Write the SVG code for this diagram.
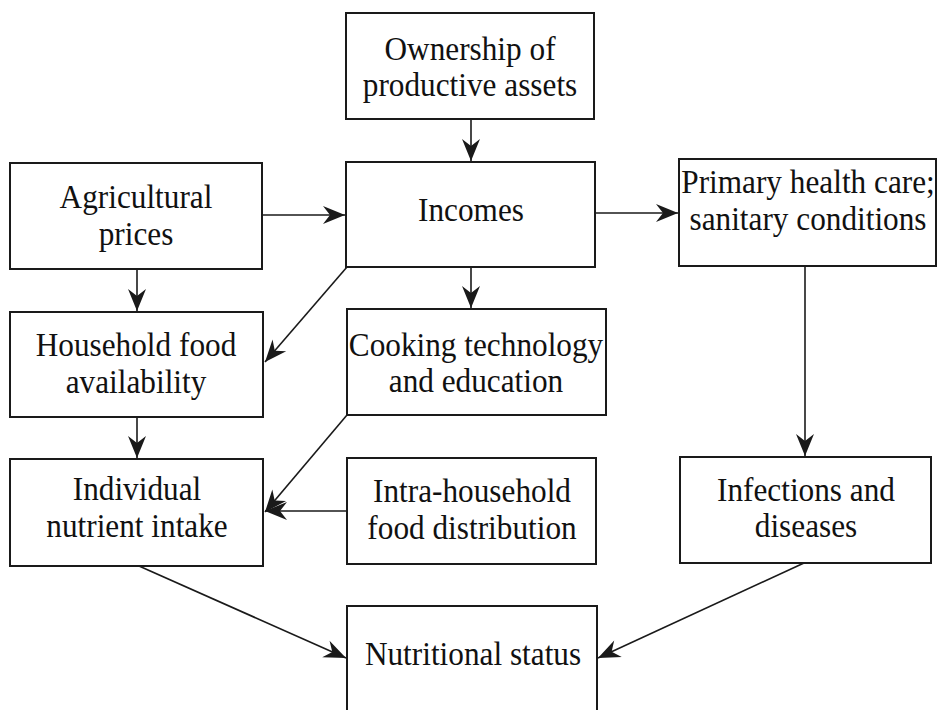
<svg xmlns="http://www.w3.org/2000/svg" width="941" height="710" viewBox="0 0 941 710">
<style>
.box{fill:#fff;stroke:#1a1a1a;stroke-width:2}
.t{font-family:"Liberation Serif","Times New Roman",serif;font-size:34px;fill:#111;text-anchor:middle}
.c{fill:none;stroke:#1a1a1a;stroke-width:1.6}
</style>
<defs>
<marker id="ah" markerUnits="userSpaceOnUse" markerWidth="26" markerHeight="22" viewBox="-24 -11 26 22" refX="0" refY="0" orient="auto">
<path d="M0,0 L-22,-9 L-15,0 L-22,9 Z" fill="#1a1a1a"/>
</marker>
</defs>
<rect width="941" height="710" fill="#fff"/>
<g id="connectors">
<line class="c" x1="471" y1="119" x2="471" y2="161" marker-end="url(#ah)"/>
<line class="c" x1="263" y1="215" x2="345" y2="215" marker-end="url(#ah)"/>
<line class="c" x1="596" y1="213" x2="678" y2="213" marker-end="url(#ah)"/>
<line class="c" x1="137" y1="269" x2="137" y2="311" marker-end="url(#ah)"/>
<line class="c" x1="347" y1="267" x2="265" y2="362" marker-end="url(#ah)"/>
<line class="c" x1="471" y1="267" x2="471" y2="308" marker-end="url(#ah)"/>
<line class="c" x1="137" y1="417" x2="137" y2="458" marker-end="url(#ah)"/>
<line class="c" x1="347" y1="415" x2="265" y2="512" marker-end="url(#ah)"/>
<line class="c" x1="347" y1="511" x2="265" y2="511" marker-end="url(#ah)"/>
<line class="c" x1="805" y1="266" x2="805" y2="456" marker-end="url(#ah)"/>
<line class="c" x1="139" y1="566" x2="346" y2="658" marker-end="url(#ah)"/>
<line class="c" x1="804" y1="563" x2="598" y2="658" marker-end="url(#ah)"/>
</g>
<g id="ownership"><rect class="box" x="346" y="13" width="248" height="106"/><text class="t" transform="matrix(0.92 0 0 1 470 60)">Ownership of</text><text class="t" transform="matrix(0.92 0 0 1 470 96)">productive assets</text></g>
<g id="agricultural"><rect class="box" x="10" y="163" width="252" height="106"/><text class="t" transform="matrix(0.92 0 0 1 136 208)">Agricultural</text><text class="t" transform="matrix(0.92 0 0 1 136 245)">prices</text></g>
<g id="incomes"><rect class="box" x="346" y="162" width="249" height="105"/><text class="t" transform="matrix(0.92 0 0 1 471 221)">Incomes</text></g>
<g id="health"><rect class="box" x="679" y="159" width="257" height="107"/><text class="t" transform="matrix(0.92 0 0 1 808 193)">Primary health care;</text><text class="t" transform="matrix(0.92 0 0 1 808 230)">sanitary conditions</text></g>
<g id="household"><rect class="box" x="10" y="312" width="253" height="105"/><text class="t" transform="matrix(0.92 0 0 1 136 356)">Household food</text><text class="t" transform="matrix(0.92 0 0 1 136 393)">availability</text></g>
<g id="cooking"><rect class="box" x="347" y="309" width="259" height="106"/><text class="t" transform="matrix(0.92 0 0 1 476 356)">Cooking technology</text><text class="t" transform="matrix(0.92 0 0 1 476 392)">and education</text></g>
<g id="individual"><rect class="box" x="10" y="459" width="253" height="107"/><text class="t" transform="matrix(0.92 0 0 1 137 500)">Individual</text><text class="t" transform="matrix(0.92 0 0 1 137 537)">nutrient intake</text></g>
<g id="intra"><rect class="box" x="347" y="458" width="249" height="106"/><text class="t" transform="matrix(0.92 0 0 1 472 502)">Intra-household</text><text class="t" transform="matrix(0.92 0 0 1 472 539)">food distribution</text></g>
<g id="infections"><rect class="box" x="680" y="457" width="251" height="106"/><text class="t" transform="matrix(0.92 0 0 1 806 501)">Infections and</text><text class="t" transform="matrix(0.92 0 0 1 806 537)">diseases</text></g>
<g id="nutritional"><rect class="box" x="347" y="606" width="250" height="110"/><text class="t" transform="matrix(0.92 0 0 1 473 665)">Nutritional status</text></g>
</svg>
